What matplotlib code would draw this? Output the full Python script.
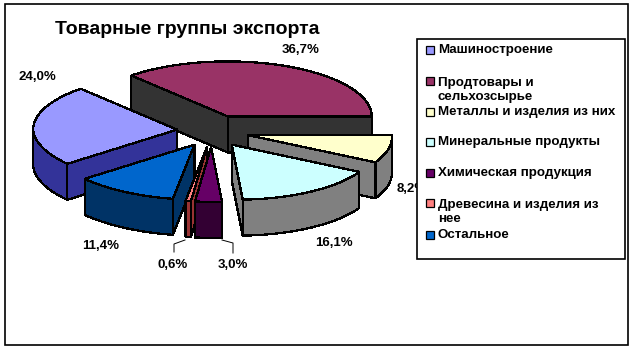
# exploded 3D-looking pie of export groups, built by hand from polygons

import matplotlib
matplotlib.use("Agg")
import matplotlib.pyplot as plt
import numpy as np
from matplotlib.patches import Polygon, Rectangle

title = "Товарные группы экспорта"
categories = ["Машиностроение", "Продтовары и\nсельхозсырье", "Металлы и изделия из них",
              "Минеральные продукты", "Химическая продукция", "Древесина и изделия из\nнее",
              "Остальное"]
values = [24.0, 36.7, 8.2, 16.1, 3.0, 0.6, 11.4]
top_colors = ["#9999FF", "#993366", "#FFFFCC", "#CCFFFF", "#660066", "#FF8080", "#0066CC"]
side_colors = ["#333399", "#333333", "#808080", "#808080", "#330033", "#993333", "#003366"]

# pie geometry, pixels
cx, cy = 213, 131
rx, ry = 144, 55
depth = 36
explode_x, explode_y = 36, 16
start_angle = -128.4
# the front of the pie leans to the right a little in the original
lean = 0.09

# the back slices go first so the front ones cover them
draw_order = [1, 0, 2, 3, 6, 5, 4]

label_pos = [(37, 77), (301, 50), (412, 189), (334, 243), (233, 265), (173, 265), (101, 246)]
legend_y = [50, 90, 112, 142, 173, 212, 235]

plt.rcParams["font.family"] = ["Liberation Sans", "DejaVu Sans"]
plt.rcParams["font.weight"] = "bold"

fig = plt.figure(figsize=(6.36, 3.52), dpi=100)
ax = fig.add_axes([0, 0, 1, 1])
ax.set_xlim(0, 636)
ax.set_ylim(352, 0)
ax.axis("off")

ax.add_patch(Rectangle((5, 4), 623, 341, fc="white", ec="black", lw=1.2))
ax.text(55, 29, title, fontsize=14, va="center", ha="left")


def point(apex, deg):
    t = np.radians(deg)
    dy = -ry * np.cos(t)
    return apex[0] + rx * np.sin(t) + lean * np.maximum(dy, 0), apex[1] + dy


def extrude(xs, ys):
    # top edge followed by the same edge moved down
    xs, ys = list(xs), list(ys)
    return list(zip(xs + xs[::-1], ys + [y + depth for y in ys[::-1]]))


bounds = start_angle + np.concatenate([[0], np.cumsum(values)]) * 3.6

for i in draw_order:
    a0, a1 = bounds[i], bounds[i + 1]
    mid = np.radians((a0 + a1) / 2)
    apex = (cx + explode_x * np.sin(mid), cy - explode_y * np.cos(mid))
    style = dict(ec="black", lw=0.9, fc=side_colors[i], antialiased=False)

    # radial faces, only the ones turned to the viewer
    if np.sin(np.radians(a0)) < 0:
        p = point(apex, a0)
        ax.add_patch(Polygon(extrude([apex[0], p[0]], [apex[1], p[1]]), **style))
    if np.sin(np.radians(a1)) > 0:
        p = point(apex, a1)
        ax.add_patch(Polygon(extrude([apex[0], p[0]], [apex[1], p[1]]), **style))

    # outer rim, front half only
    angles = np.linspace(a0, a1, 80)
    angles = angles[np.cos(np.radians(angles)) <= 0]
    if len(angles) > 1:
        rim_x, rim_y = point(apex, angles)
        ax.add_patch(Polygon(extrude(rim_x, rim_y), **style))

    arc_x, arc_y = point(apex, np.linspace(a0, a1, 80))
    top = [apex] + list(zip(arc_x, arc_y))
    ax.add_patch(Polygon(top, fc=top_colors[i], ec="black", lw=0.9, antialiased=False))

for v, (x, y) in zip(values, label_pos):
    ax.text(x, y, f"{v:.1f}%".replace(".", ","), fontsize=9.5, ha="center", va="center")

# leader lines for the two small slices
ax.plot([174, 174, 185], [252, 244, 240], color="black", lw=0.7)
ax.plot([222, 233, 233], [240, 243, 253], color="black", lw=0.7)

# legend, drawn last because it hides part of the 8,2% label
ax.add_patch(Rectangle((417, 39), 208, 220, fc="white", ec="black", lw=1.2, zorder=5))
for name, color, y in zip(categories, top_colors, legend_y):
    first_line_y = y - 8.5 if "\n" in name else y
    ax.add_patch(Rectangle((425.5, first_line_y - 4.5), 8.5, 8, fc=color, ec="black", lw=0.9, zorder=6))
    ax.text(438, y, name, fontsize=9.6, ha="left", va="center", linespacing=1.25, zorder=6)

fig.savefig("out.png", dpi=100)
